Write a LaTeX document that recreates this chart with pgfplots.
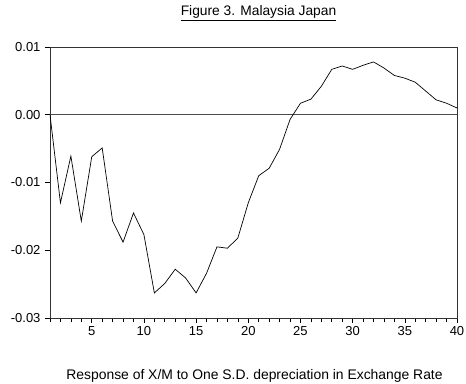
\documentclass[border=0pt]{standalone}
\usepackage{pgfplots}
\pgfplotsset{compat=1.18}
\usepackage{fontspec}
\setmainfont{Liberation Sans}

\begin{document}
\begin{tikzpicture}[x=1pt,y=1pt]
  \path[use as bounding box] (0,0) rectangle (466,383);
  \begin{axis}[
    at={(50pt,65pt)}, anchor=south west,
    scale only axis, width=407pt, height=271pt,
    xmin=1, xmax=40, ymin=-0.03, ymax=0.01,
    xtick={5,10,...,40},
    minor xtick={1,...,40},
    ytick={-0.03,-0.02,-0.01,0,0.01},
    xtick pos=bottom, ytick pos=left,
    tick align=outside,
    major tick length=5pt, minor tick length=4.5pt,
    every tick/.style={black, line width=0.6pt},
    axis line style={black!80, line width=0.7pt},
    tick label style={font=\fontsize{13}{15}\selectfont},
    /pgf/number format/assume math mode=true,
    yticklabel style={/pgf/number format/fixed, /pgf/number format/fixed zerofill, /pgf/number format/precision=2, xshift=-1pt},
    scaled y ticks=false,
    xticklabel style={anchor=base, yshift=-13pt},
  ]
    % zero reference line
    \addplot[black!70, line width=0.8pt] coordinates {(1,0) (40,0)};
    % impulse response
    \addplot[black, line width=0.7pt] coordinates {
      (1,0.0000) (2,-0.0130) (3,-0.0061) (4,-0.0157) (5,-0.0062)
      (6,-0.0049) (7,-0.0157) (8,-0.0188) (9,-0.0145) (10,-0.0177)
      (11,-0.0263) (12,-0.0249) (13,-0.0228) (14,-0.0241) (15,-0.0263)
      (16,-0.0234) (17,-0.0195) (18,-0.0197) (19,-0.0182) (20,-0.0130)
      (21,-0.0090) (22,-0.0079) (23,-0.0051) (24,-0.0007) (25,0.0017)
      (26,0.0023) (27,0.0042) (28,0.0067) (29,0.0072) (30,0.0067)
      (31,0.0073) (32,0.0078) (33,0.0069) (34,0.0058) (35,0.0054)
      (36,0.0048) (37,0.0035) (38,0.0022) (39,0.0017) (40,0.0010)
    };
  \end{axis}
  \node[anchor=base] at (258.5,367) {\fontsize{13.8}{16}\selectfont\underline{Figure 3. Malaysia Japan}};
  \node[anchor=base] at (254.5,4) {\fontsize{13.9}{16}\selectfont Response of X/M to One S.D. depreciation in Exchange Rate};
\end{tikzpicture}
\end{document}
